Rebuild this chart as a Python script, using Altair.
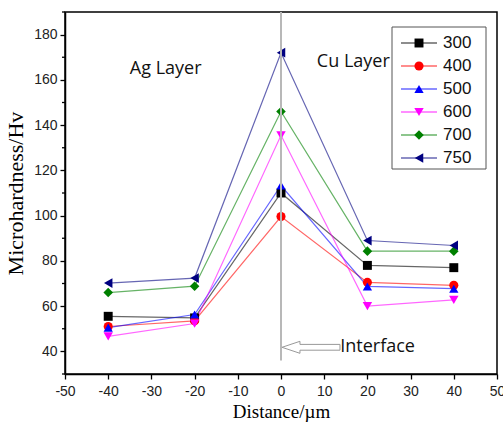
import altair as alt
import pandas as pd

# ---------------- data ----------------
distance = [-40, -20, 0, 20, 40]
series = ["300", "400", "500", "600", "700", "750"]
h300 = [55.5, 54.8, 110.0, 78.0, 77.0]
h400 = [51.0, 53.5, 99.6, 70.5, 69.2]
h500 = [50.5, 56.3, 113.3, 68.7, 67.7]
h600 = [46.6, 52.3, 135.5, 60.0, 62.8]
h700 = [66.0, 68.8, 146.0, 84.3, 84.3]
h750 = [70.2, 72.4, 172.0, 89.0, 86.8]
values_by_series = [h300, h400, h500, h600, h700, h750]

y_major = [40, 60, 80, 100, 120, 140, 160, 180]
y_minor = [30, 50, 70, 90, 110, 130, 150, 170, 190]
x_ticks = list(range(-50, 51, 5))

colors = ["#000000", "#FF0000", "#0000FF", "#FF00FF", "#008000", "#000080"]
shapes = ["square", "circle", "triangle-up", "triangle-down", "diamond", "triangle-left"]
marker_sizes = [80, 95, 140, 140, 115, 140]

rows = []
for s, vals in zip(series, values_by_series):
    for d, v in zip(distance, vals):
        rows.append({"s": s, "d": d, "v": v})
df = pd.DataFrame(rows)
one = pd.DataFrame({"a": [0]})
leg_df = pd.DataFrame({"s": series, "row": list(range(len(series)))})
minor_df = pd.DataFrame({"m": y_minor})

# ---------------- scales / axes ----------------
x_scale = alt.Scale(domain=[-50, 50], nice=False, zero=False)
y_scale = alt.Scale(domain=[30, 190], nice=False, zero=False)
color_scale = alt.Scale(domain=series, range=colors)
shape_scale = alt.Scale(domain=series, range=shapes)
size_scale = alt.Scale(domain=series, range=marker_sizes)

axis_common = dict(
    grid=False, domainColor="black", domainWidth=1.5, tickColor="black",
    tickWidth=1.3, labelFont="Liberation Sans", labelFontSize=14,
    labelColor="#222222", labelFlush=False, labelOverlap=False,
    titleFont="Liberation Serif", titleFontWeight="normal", titleColor="black",
)
xaxis = alt.Axis(
    values=x_ticks,
    labelExpr="datum.value % 10 === 0 ? '' + datum.value : ''",
    tickSize={"condition": {"test": "datum.value % 10 === 0", "value": 5}, "value": 3},
    labelPadding=5, titleFontSize=19, titlePadding=4,
    **axis_common,
)
yaxis = alt.Axis(
    values=y_major, tickSize=5,
    labelPadding=3, titleFontSize=22, titlePadding=6,
    **axis_common,
)

X = alt.X("d:Q", scale=x_scale, axis=xaxis, title="Distance/µm")
Y = alt.Y("v:Q", scale=y_scale, axis=yaxis, title="Microhardness/Hv")
C = alt.Color("s:N", scale=color_scale, legend=None)
S = alt.Shape("s:N", scale=shape_scale, legend=None)
Z = alt.Size("s:N", scale=size_scale, legend=None)

# ---------------- main layers ----------------
lines = alt.Chart(df).mark_line(strokeWidth=1.2, opacity=0.6).encode(x=X, y=Y, color=C)
points = alt.Chart(df).mark_point(filled=True, opacity=1).encode(
    x=X, y=Y, color=C, shape=S, size=Z
)

y_minor_ticks = alt.Chart(minor_df).mark_rule(color="black", strokeWidth=1.3).encode(
    x=alt.value(-3), x2=alt.value(0), y=alt.Y("m:Q", scale=y_scale)
)

vline = alt.Chart(one).mark_rule(color="#b8b8b8", strokeWidth=2).encode(
    x=alt.datum(0), y=alt.datum(36), y2=alt.datum(190)
)

arrow_path = "M-1,0L-0.38,-0.207L-0.38,-0.1L1,-0.1L1,0.1L-0.38,0.1L-0.38,0.207Z"
arrow = alt.Chart(one).mark_point(
    shape=arrow_path, size=3364, filled=False, color="#999999", strokeWidth=1, opacity=1
).encode(x=alt.datum(6.94), y=alt.datum(41.8))

def label(txt, xv, yv):
    return alt.Chart(one).mark_text(
        align="left", baseline="middle", font="Open Sans", fontSize=18, color="#111111"
    ).encode(x=alt.datum(xv), y=alt.datum(yv), text=alt.value(txt))

ag = label("Ag Layer", -35.0, 164.6)
cu = label("Cu Layer", 8.3, 168.0)
iface = label("Interface", 13.7, 41.8)

# ---------------- legend (pixel positioned, no scale) ----------------
leg_base = alt.Chart(leg_df).transform_calculate(ly="31 + datum.row * 23")
LY = alt.Y("ly:Q", scale=None, axis=None)

leg_box = alt.Chart(one).mark_rect(fill="white", stroke="#555555", strokeWidth=1).encode(
    x=alt.value(327), x2=alt.value(421), y=alt.value(15), y2=alt.value(157)
)
leg_lines = leg_base.mark_rule(strokeWidth=1.3, opacity=0.6).encode(
    x=alt.value(336), x2=alt.value(372), y=LY, color=C
)
leg_points = leg_base.mark_point(filled=True, opacity=1).encode(
    x=alt.value(354), y=LY, color=C, shape=S, size=Z
)
leg_text = leg_base.mark_text(
    align="left", baseline="middle", font="Liberation Sans", fontSize=17, color="#111111"
).encode(x=alt.value(378), y=LY, text="s:N")

chart = (
    alt.layer(lines, points, vline, arrow, ag, cu, iface, y_minor_ticks,
              leg_box, leg_lines, leg_points, leg_text)
    .properties(
        width=432, height=362, autosize="none",
        padding={"left": 65, "top": 12, "right": 6, "bottom": 49},
        background="white",
    )
    .configure_view(stroke="black", strokeWidth=1.5)
)

chart.save("out.html", embed_options={"renderer": "svg", "actions": False})
